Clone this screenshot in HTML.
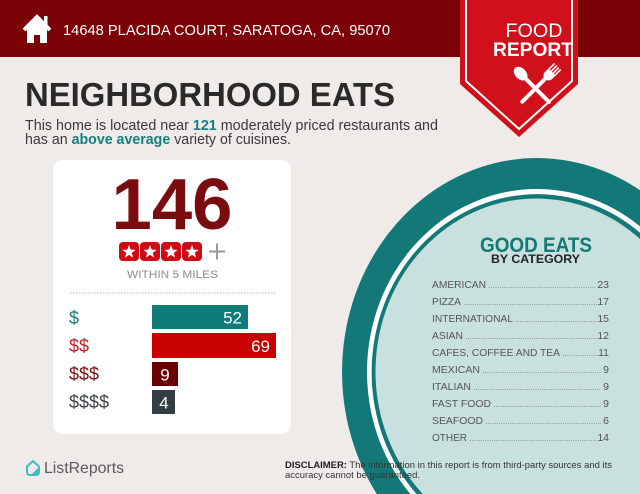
<!DOCTYPE html>
<html>
<head>
<meta charset="utf-8">
<style>
html,body{margin:0;padding:0;background:#efebe8;width:640px;height:494px;overflow:hidden;}
svg{display:block;}
text{font-family:"Liberation Sans",Arial,sans-serif;}
</style>
</head>
<body>
<svg width="640" height="494" viewBox="0 0 640 494" xmlns="http://www.w3.org/2000/svg" overflow="hidden">
  <!-- background -->
  <rect x="0" y="0" width="640" height="494" fill="#efebe8"/>

  <!-- header bar -->
  <rect x="0" y="0" width="640" height="57" fill="#7b0206"/>

  <!-- house icon -->
  <polyline points="24,30 37,17 50,30" fill="none" stroke="#ffffff" stroke-width="4" stroke-linejoin="miter"/>
  <rect x="44" y="16" width="3.5" height="9" fill="#ffffff"/>
  <path d="M27,29 L37,20 L47,29 V43 H40 V35 H34 V43 H27 Z" fill="#ffffff"/>

  <!-- address -->
  <text x="63" y="35" font-size="15" fill="#ffffff" textLength="327" lengthAdjust="spacingAndGlyphs">14648 PLACIDA COURT, SARATOGA, CA, 95070</text>

  <!-- big ellipse (pre-clipped arcs) -->
  <path d="M640,190.3 A195,214 0 0,0 376.8,494 L640,494 Z" fill="#137978"/>
  <path d="M640,226.4 A170,183 0 0,0 410.3,494 L640,494 Z" fill="#ffffff"/>
  <path d="M640,232.7 A165.5,178 0 0,0 416.5,494 L640,494 Z" fill="#137978"/>
  <path d="M640,239 A161,173 0 0,0 422.8,494 L640,494 Z" fill="#c8e1de"/>

  <!-- banner -->
  <polygon points="460,0 578,0 578,84 519,137 460,84" fill="#d0101a"/>
  <polyline points="466,0 466,81 519,129 572,81 572,0" fill="none" stroke="#ffffff" stroke-width="2"/>
  <text x="534" y="37" font-size="19.5" fill="#ffffff" text-anchor="middle" textLength="57" lengthAdjust="spacingAndGlyphs">FOOD</text>
  <text x="533" y="56" font-size="19.5" fill="#ffffff" text-anchor="middle" font-weight="bold" textLength="80" lengthAdjust="spacingAndGlyphs">REPORT</text>

  <!-- spoon -->
  <g transform="translate(527,80) rotate(-45)" fill="#ffffff">
    <ellipse cx="0" cy="-9" rx="5.5" ry="8"/>
    <line x1="0" y1="-2" x2="0" y2="31" stroke="#ffffff" stroke-width="4" stroke-linecap="round"/>
  </g>
  <!-- fork -->
  <g transform="translate(547,77) rotate(45)" fill="#ffffff">
    <path d="M-5,-7 H5 V-2 Q5,2 0,3 Q-5,2 -5,-2 Z"/>
    <rect x="-5" y="-15" width="1.6" height="9"/>
    <rect x="-1.9" y="-15" width="1.6" height="9"/>
    <rect x="0.9" y="-15" width="1.6" height="9"/>
    <rect x="3.6" y="-15" width="1.6" height="9"/>
    <line x1="0" y1="1" x2="0" y2="35" stroke="#ffffff" stroke-width="4" stroke-linecap="round"/>
  </g>

  <!-- title -->
  <text x="25" y="106" font-size="33" font-weight="bold" fill="#2a2a2a" textLength="370" lengthAdjust="spacingAndGlyphs">NEIGHBORHOOD EATS</text>

  <!-- subtitle -->
  <text x="25" y="130" font-size="14.5" fill="#3a3a3a" textLength="413" lengthAdjust="spacingAndGlyphs">This home is located near <tspan font-weight="bold" fill="#138080">121</tspan> moderately priced restaurants and</text>
  <text x="25" y="144" font-size="14.5" fill="#3a3a3a" textLength="266" lengthAdjust="spacingAndGlyphs">has an <tspan font-weight="bold" fill="#138080">above average</tspan> variety of cuisines.</text>

  <!-- card -->
  <rect x="53" y="160" width="238" height="274" rx="10" ry="10" fill="#ffffff"/>

  <text x="172" y="229" font-size="72" font-weight="bold" fill="#7a0b0f" text-anchor="middle" textLength="121" lengthAdjust="spacingAndGlyphs">146</text>

  <!-- stars -->
  <g fill="#d00a14">
    <rect x="119" y="242" width="20" height="19" rx="4"/>
    <rect x="140" y="242" width="20" height="19" rx="4"/>
    <rect x="161" y="242" width="20" height="19" rx="4"/>
    <rect x="182" y="242" width="20" height="19" rx="4"/>
  </g>
  <g fill="#ffffff">
    <polygon transform="translate(129,252)" points="0,-7 1.7,-2.35 6.66,-2.16 2.76,0.9 4.11,5.66 0,2.9 -4.11,5.66 -2.76,0.9 -6.66,-2.16 -1.7,-2.35"/>
    <polygon transform="translate(150,252)" points="0,-7 1.7,-2.35 6.66,-2.16 2.76,0.9 4.11,5.66 0,2.9 -4.11,5.66 -2.76,0.9 -6.66,-2.16 -1.7,-2.35"/>
    <polygon transform="translate(171,252)" points="0,-7 1.7,-2.35 6.66,-2.16 2.76,0.9 4.11,5.66 0,2.9 -4.11,5.66 -2.76,0.9 -6.66,-2.16 -1.7,-2.35"/>
    <polygon transform="translate(192,252)" points="0,-7 1.7,-2.35 6.66,-2.16 2.76,0.9 4.11,5.66 0,2.9 -4.11,5.66 -2.76,0.9 -6.66,-2.16 -1.7,-2.35"/>
  </g>
  <line x1="209" y1="251.5" x2="225" y2="251.5" stroke="#9a9a9a" stroke-width="2"/>
  <line x1="217" y1="243.5" x2="217" y2="259.5" stroke="#9a9a9a" stroke-width="2"/>

  <text x="172.5" y="278" font-size="11" fill="#8a8a8a" text-anchor="middle" textLength="91" lengthAdjust="spacingAndGlyphs">WITHIN 5 MILES</text>

  <line x1="70" y1="293" x2="275" y2="293" stroke="#b8b8b8" stroke-width="1" stroke-dasharray="1.5,1.5"/>

  <!-- price bars -->
  <text x="69" y="324" font-size="18" fill="#1a8080">$</text>
  <rect x="152" y="305" width="96" height="24" fill="#0f7b7b"/>
  <text x="242" y="323.5" font-size="17" fill="#ffffff" text-anchor="end">52</text>

  <text x="69" y="352" font-size="18" fill="#c8202a">$$</text>
  <rect x="152" y="333" width="124" height="25" fill="#c90000"/>
  <text x="270" y="352" font-size="17" fill="#ffffff" text-anchor="end">69</text>

  <text x="69" y="380" font-size="18" fill="#7a1010">$$$</text>
  <rect x="152" y="362" width="26" height="24" fill="#6b0000"/>
  <text x="165" y="380.5" font-size="17" fill="#ffffff" text-anchor="middle">9</text>

  <text x="69" y="408" font-size="18" fill="#3d4448">$$$$</text>
  <rect x="152" y="390" width="23" height="24" fill="#333d42"/>
  <text x="164" y="408.5" font-size="17" fill="#ffffff" text-anchor="middle">4</text>

  <!-- Good eats -->
  <text x="536" y="252" font-size="21" font-weight="bold" fill="#137978" text-anchor="middle" textLength="112" lengthAdjust="spacingAndGlyphs">GOOD EATS</text>
  <text x="535.5" y="263" font-size="12" font-weight="bold" fill="#222222" text-anchor="middle" textLength="89" lengthAdjust="spacingAndGlyphs">BY CATEGORY</text>

  <g font-size="10.5" fill="#555555">
    <text x="432" y="288" textLength="54" lengthAdjust="spacingAndGlyphs">AMERICAN</text>
    <text x="609" y="288" text-anchor="end">23</text>
    <text x="432" y="305" textLength="29" lengthAdjust="spacingAndGlyphs">PIZZA</text>
    <text x="609" y="305" text-anchor="end">17</text>
    <text x="432" y="322" textLength="81" lengthAdjust="spacingAndGlyphs">INTERNATIONAL</text>
    <text x="609" y="322" text-anchor="end">15</text>
    <text x="432" y="339" textLength="31" lengthAdjust="spacingAndGlyphs">ASIAN</text>
    <text x="609" y="339" text-anchor="end">12</text>
    <text x="432" y="356" textLength="128" lengthAdjust="spacingAndGlyphs">CAFES, COFFEE AND TEA</text>
    <text x="609" y="356" text-anchor="end">11</text>
    <text x="432" y="373" textLength="48" lengthAdjust="spacingAndGlyphs">MEXICAN</text>
    <text x="609" y="373" text-anchor="end">9</text>
    <text x="432" y="390" textLength="39" lengthAdjust="spacingAndGlyphs">ITALIAN</text>
    <text x="609" y="390" text-anchor="end">9</text>
    <text x="432" y="407" textLength="59" lengthAdjust="spacingAndGlyphs">FAST FOOD</text>
    <text x="609" y="407" text-anchor="end">9</text>
    <text x="432" y="424" textLength="51" lengthAdjust="spacingAndGlyphs">SEAFOOD</text>
    <text x="609" y="424" text-anchor="end">6</text>
    <text x="432" y="441" textLength="35" lengthAdjust="spacingAndGlyphs">OTHER</text>
    <text x="609" y="441" text-anchor="end">14</text>
  </g>
  <g stroke="#6a6a6a" stroke-width="0.8" stroke-dasharray="0.8,1.4">
    <line x1="489" y1="287.5" x2="595" y2="287.5"/>
    <line x1="464" y1="304.5" x2="598" y2="304.5"/>
    <line x1="516" y1="321.5" x2="597" y2="321.5"/>
    <line x1="466" y1="338.5" x2="597" y2="338.5"/>
    <line x1="563" y1="355.5" x2="600" y2="355.5"/>
    <line x1="483" y1="372.5" x2="601" y2="372.5"/>
    <line x1="474" y1="389.5" x2="601" y2="389.5"/>
    <line x1="494" y1="406.5" x2="601" y2="406.5"/>
    <line x1="486" y1="423.5" x2="601" y2="423.5"/>
    <line x1="470" y1="440.5" x2="597" y2="440.5"/>
  </g>

  <!-- logo -->
  <path d="M27,466.5 L33,461 L39,466.5 V472 Q39,475 36,475 H30 Q27,475 27,472 Z" fill="none" stroke="#3fbcc6" stroke-width="2" stroke-linejoin="round"/>
  <path d="M31,475 L39,467 V472 Q39,475 36,475 Z" fill="#3fbcc6"/>
  <text x="44" y="473" font-size="16" fill="#5a5a5a" textLength="80" lengthAdjust="spacingAndGlyphs">ListReports</text>

  <!-- disclaimer -->
  <text x="285" y="468" font-size="9.5" fill="#333333" textLength="327" lengthAdjust="spacingAndGlyphs"><tspan font-weight="bold" fill="#1e1e1e">DISCLAIMER:</tspan> The information in this report is from third-party sources and its</text>
  <text x="285" y="478" font-size="9.5" fill="#333333" textLength="135" lengthAdjust="spacingAndGlyphs">accuracy cannot be guaranteed.</text>
</svg>
</body>
</html>
